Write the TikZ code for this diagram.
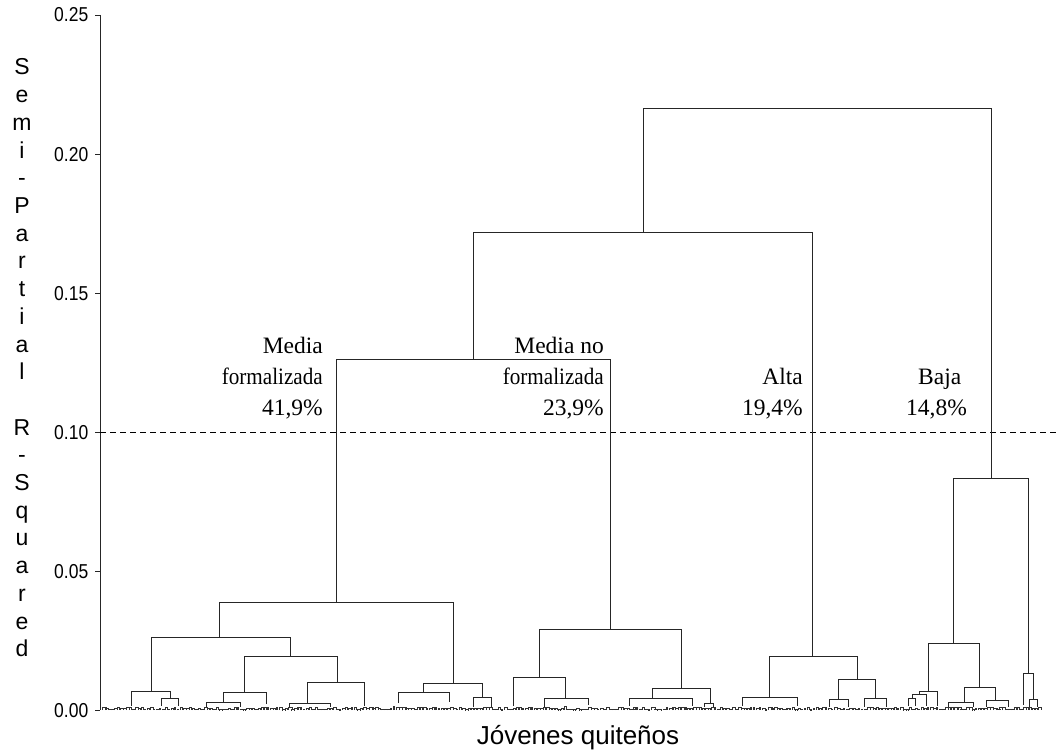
\documentclass[tikz,border=0pt]{standalone}
\usepackage{fontspec}
\setmainfont{Liberation Serif}
\newfontfamily\arialf{Liberation Sans}
\newcommand\dbr[5]{\draw[dline] (#1,#4) |- (#2,#3) -- (#2,#5);}
\newcommand\formz{\scalebox{0.9}[1]{formalizada}}
\begin{document}
\begin{tikzpicture}[x=1pt,y=-1pt]
\tikzset{
  dline/.style={black!85, line width=0.9pt},
  ticklab/.style={font=\arialf\fontsize{17.5}{20}\selectfont, anchor=base east, inner sep=0pt},
  ylet/.style={font=\arialf\fontsize{23}{26}\selectfont, anchor=base, inner sep=0pt},
  clab/.style={font=\fontsize{23.5}{28}\selectfont, inner sep=0pt},
  xlab/.style={font=\arialf\fontsize{26}{30}\selectfont, anchor=base, inner sep=0pt}
}
\useasboundingbox (0,0) rectangle (1056,749);
% y label
\foreach \c [count=\i from 0] in {S,e,m,i,-,P,a,r,t,i,a,l,{},R,-,S,q,u,a,r,e,d}
  \node[ylet] (yl\i) at (22,{67+27.7*\i+8}) {\c};
% axis
\draw[dline] (100,15) -- (100,710);
\foreach \v/\yy [count=\k] in {0.00/710,0.05/571,0.10/432,0.15/293,0.20/154,0.25/15}{
  \draw[dline] (95,\yy) -- (100,\yy);
  \node[ticklab] (tk\k) at (88.5,{\yy+7}) {\scalebox{1}[1.15]{\v}};
}
\node[xlab] (xl) at (578,744) {Jóvenes quiteños};
% cut line
\draw[black, line width=0.9pt, dash pattern=on 6pt off 4pt] (100,432) -- (1056,432);
% cluster labels
\node[clab, anchor=base east] (m1a) at (323,353) {Media};
\node[clab, anchor=base east] (m1b) at (323,384) {\formz};
\node[clab, anchor=base east] (m1c) at (323,415) {41,9\%};
\node[clab, anchor=base east] (m2a) at (604,353) {Media no};
\node[clab, anchor=base east] (m2b) at (604,384) {\formz};
\node[clab, anchor=base east] (m2c) at (604,415) {23,9\%};
\node[clab, anchor=base east] (a1) at (803,384) {Alta};
\node[clab, anchor=base east] (a2) at (803,415) {19,4\%};
\node[clab, anchor=base west] (b1) at (918,384) {Baja};
\node[clab, anchor=base west] (b2) at (906,415) {14,8\%};
% dendrogram main
\dbr{643}{991}{108}{232}{478}
\dbr{473}{812}{232}{359}{656}
\dbr{336}{610}{359}{602}{629}
\dbr{219}{453}{602}{637}{683}
\dbr{151}{290}{637}{691}{656}
\dbr{131}{170}{691}{706}{698}
\dbr{161}{178}{698}{706}{706}
\dbr{244}{337}{656}{692}{682}
\dbr{223}{266}{692}{702}{704}
\dbr{206}{240}{702}{707}{707}
\dbr{307}{364}{682}{703}{706}
\dbr{289}{330}{703}{707}{707}
\dbr{423}{482}{683}{692}{697}
\dbr{398}{449}{692}{703}{702}
\dbr{473}{491}{697}{707}{707}
\dbr{539}{681}{629}{677}{688}
\dbr{513}{565}{677}{706}{698}
\dbr{544}{588}{698}{707}{705}
\dbr{652}{710}{688}{698}{703}
\dbr{629}{692}{698}{706}{706}
\dbr{704}{713}{703}{707}{707}
\dbr{769}{857}{656}{697}{679}
\dbr{742}{797}{697}{706}{706}
\dbr{838}{875}{679}{699}{698}
\dbr{829}{848}{699}{707}{707}
\dbr{864}{886}{698}{707}{707}
\dbr{953}{1028}{478}{643}{673}
\dbr{928}{979}{643}{691}{687}
\dbr{1023}{1033}{673}{705}{699}
\dbr{919}{937}{691}{694}{706}
\dbr{912}{926}{694}{698}{706}
\dbr{908}{915}{698}{706}{706}
\dbr{964}{995}{687}{702}{700}
\dbr{948}{973}{702}{707}{707}
\dbr{986}{1008}{700}{707}{707}
\dbr{1029}{1037}{699}{707}{707}
% fine leaf-level merges
\pgfmathsetseed{11}
\foreach \x in {102,105,...,1040}{
  \pgfmathsetmacro\hh{710-0.4-rnd*2.8}
  \pgfmathsetmacro\ww{1.5+rnd*2.5}
  \draw[black!80, line width=0.7pt] (\x,710) |- (\x+\ww,\hh) -- (\x+\ww,710);
}
\end{tikzpicture}
\end{document}
